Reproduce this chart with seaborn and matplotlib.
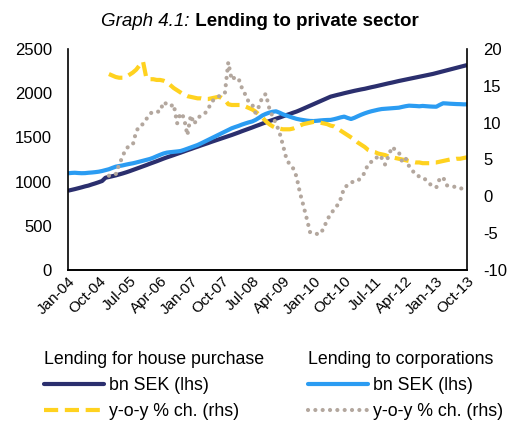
import matplotlib
matplotlib.use("Agg")
import matplotlib.pyplot as plt
from matplotlib.lines import Line2D
import numpy as np
import pandas as pd
import seaborn as sns

# Monthly observations, Jan-04 .. Oct-13
house_bn = [
    897, 906, 915, 925, 935, 946, 955, 968, 980, 993, 1007, 1044,
    1052, 1061, 1070, 1081, 1092, 1104, 1117, 1131, 1145, 1159, 1173, 1187,
    1202, 1216, 1230, 1245, 1260, 1274, 1287, 1300, 1314, 1327, 1341, 1355,
    1368, 1382, 1395, 1409, 1422, 1435, 1449, 1462, 1475, 1488, 1501, 1514,
    1527, 1541, 1555, 1570, 1584, 1598, 1612, 1627, 1641, 1656, 1670, 1684,
    1697, 1711, 1724, 1738, 1752, 1765, 1779, 1792, 1808, 1825, 1842, 1859,
    1876, 1893, 1910, 1927, 1944, 1961, 1971, 1981, 1990, 2000, 2009, 2018,
    2027, 2035, 2043, 2050, 2059, 2068, 2076, 2085, 2094, 2103, 2112, 2120,
    2129, 2138, 2146, 2154, 2162, 2170, 2178, 2186, 2194, 2202, 2210, 2218,
    2228, 2238, 2248, 2258, 2268, 2278, 2288, 2298, 2308, 2318,
]
corp_bn = [
    1094, 1098, 1100, 1097, 1095, 1096, 1100, 1103, 1107, 1112, 1120, 1130,
    1140, 1155, 1169, 1176, 1183, 1192, 1200, 1207, 1216, 1226, 1236, 1246,
    1256, 1270, 1287, 1303, 1318, 1328, 1333, 1337, 1341, 1346, 1358, 1372,
    1386, 1400, 1414, 1432, 1451, 1470, 1489, 1508, 1527, 1546, 1565, 1584,
    1603, 1617, 1630, 1645, 1658, 1670, 1680, 1698, 1722, 1748, 1766, 1780,
    1790, 1795, 1780, 1762, 1748, 1735, 1722, 1710, 1702, 1696, 1690, 1686,
    1685, 1688, 1692, 1695, 1697, 1698, 1706, 1716, 1727, 1735, 1720, 1708,
    1722, 1740, 1757, 1772, 1785, 1796, 1805, 1814, 1821, 1824, 1827, 1830,
    1833, 1836, 1845, 1853, 1859, 1857, 1855, 1852, 1856, 1853, 1850, 1848,
    1847, 1868, 1886, 1884, 1881, 1879, 1877, 1876, 1874, 1874,
]
# Year-on-year growth, Jan-05 .. Oct-13
house_yoy = [
    16.6, 16.4, 16.2, 16.1, 16.1, 16.2, 16.5, 16.8, 17.2, 17.8, 18.3, 16.0,
    15.9, 15.9, 15.8, 15.8, 15.7, 15.5, 15.1, 14.7, 14.4, 14.1, 13.8, 13.6,
    13.5, 13.4, 13.3, 13.3, 13.2, 13.2, 13.3, 13.4, 13.5, 13.4, 13.1, 12.5,
    12.4, 12.4, 12.4, 12.4, 12.2, 12.0, 11.8, 11.5, 11.1, 10.7, 10.2, 9.8,
    9.5, 9.3, 9.2, 9.1, 9.1, 9.1, 9.2, 9.4, 9.6, 9.8, 9.9, 10.0,
    10.1, 10.1, 10.0, 9.9, 9.8, 9.6, 9.5, 9.2, 8.9, 8.6, 8.3, 8.0,
    7.7, 7.3, 7.0, 6.7, 6.3, 6.1, 6.0, 5.8, 5.7, 5.6, 5.4, 5.3,
    5.2, 5.1, 5.0, 4.9, 4.8, 4.7, 4.6, 4.6, 4.5, 4.5, 4.5, 4.6,
    4.6, 4.7, 4.8, 4.9, 5.0, 5.0, 5.1, 5.1, 5.2, 5.3,
]
corp_yoy = [
    2.8, 2.9, 3.0, 4.3, 5.4, 6.5, 6.8, 7.0, 8.8, 9.6, 9.8, 10.5,
    11.2, 11.5, 11.5, 11.5, 12.8, 12.5, 12.2, 12.5, 9.9, 11.3, 10.7, 8.3,
    11.0, 9.8, 10.7, 10.9, 11.2, 11.7, 12.8, 13.2, 13.5, 13.8, 14.0, 18.2,
    15.8, 16.2, 16.0, 14.7, 13.8, 12.8, 12.5, 11.3, 12.2, 13.5, 13.9, 12.0,
    10.8, 9.9, 8.7, 7.0, 5.2, 4.3, 3.8, 2.7, 0.5, -1.2, -3.0, -4.9,
    -5.0, -5.1, -5.1, -4.3, -3.2, -2.4, -1.8, -1.2, -0.3, 1.2, 1.5, 1.9,
    2.0, 2.1, 2.6, 3.2, 4.4, 4.7, 4.9, 5.6, 5.2, 4.3, 5.5, 6.7,
    6.3, 6.0, 4.7, 5.2, 4.1, 3.5, 2.9, 2.7, 2.6, 2.2, 1.7, 1.4,
    1.2, 2.4, 2.6, 1.5, 1.4, 1.3, 1.3, 1.1, 1.0, 0.9,
]
tick_labels = ["Jan-04", "Oct-04", "Jul-05", "Apr-06", "Jan-07", "Oct-07", "Jul-08",
               "Apr-09", "Jan-10", "Oct-10", "Jul-11", "Apr-12", "Jan-13", "Oct-13"]

NAVY = "#2B2F6E"
BLUE = "#2B9CF2"
YELLOW = "#FFD21F"
GREY = "#B3A79E"

sns.set_theme(style="white")
plt.rcParams["font.family"] = ["Liberation Sans", "DejaVu Sans"]
plt.rcParams["axes.unicode_minus"] = False
plt.rcParams["text.color"] = "black"

month = np.arange(len(house_bn))
levels = pd.DataFrame({"month": month, "house": house_bn, "corp": corp_bn})
growth = pd.DataFrame({"month": month[12:], "house": house_yoy, "corp": corp_yoy})

fig = plt.figure(figsize=(5.07, 4.22), dpi=100)
ax = fig.add_axes([68 / 507, 1 - 270 / 422, (467 - 68) / 507, (270 - 49) / 422])
ax2 = ax.twinx()

LW = 3.0
DASH = (0, (3.4, 1.6))
DOT = (0, (0.01, 1.75))
sns.lineplot(data=levels, x="month", y="house", ax=ax, color=NAVY, lw=LW,
             solid_capstyle="butt")
sns.lineplot(data=levels, x="month", y="corp", ax=ax, color=BLUE, lw=LW,
             solid_capstyle="butt")
sns.lineplot(data=growth, x="month", y="house", ax=ax2, color=YELLOW, lw=LW,
             linestyle=DASH, dash_capstyle="butt")
sns.lineplot(data=growth, x="month", y="corp", ax=ax2, color=GREY, lw=LW,
             linestyle=DOT, dash_capstyle="round")

ax.set_xlim(0, len(house_bn) - 1)
ax.set_ylim(0, 2500)
ax.set_yticks(np.arange(0, 2501, 500))
ax2.set_ylim(-10, 20)
ax2.set_yticks(np.arange(-10, 21, 5))
ax.set_xticks(np.arange(0, len(house_bn), 9))
ax.set_xticklabels(tick_labels, rotation=45, ha="right", rotation_mode="anchor")

for a in (ax, ax2):
    a.set_xlabel("")
    a.set_ylabel("")
    a.grid(False)
    a.tick_params(length=0, colors="black", labelsize=12, pad=11.5)
    for side in ("left", "right", "bottom"):
        a.spines[side].set_visible(True)
        a.spines[side].set_color("black")
        a.spines[side].set_linewidth(1.2)
    a.spines["top"].set_visible(False)
ax.tick_params(axis="x", pad=3, labelsize=11)
ax2.spines["left"].set_visible(False)
ax.spines["right"].set_visible(False)

# Title: italic prefix followed by a bold caption, centred as one line
TY = 1 - 22 / 422
title_l = fig.text(0, TY, "Graph 4.1:", fontsize=13.5, style="italic", va="center")
title_r = fig.text(0, TY, " Lending to private sector", fontsize=13.5,
                   weight="bold", va="center")
fig.canvas.draw()
r = fig.canvas.get_renderer()
wl = title_l.get_window_extent(r).width
wr = title_r.get_window_extent(r).width
x0 = 260 - (wl + wr) / 2
title_l.set_x(x0 / 507)
title_r.set_x((x0 + wl) / 507)

house_handles = [
    Line2D([], [], color=NAVY, lw=LW, solid_capstyle="round"),
    Line2D([], [], color=YELLOW, lw=LW, linestyle=DASH),
]
corp_handles = [
    Line2D([], [], color=BLUE, lw=LW, solid_capstyle="round"),
    Line2D([], [], color=GREY, lw=LW, linestyle=DOT, dash_capstyle="round"),
]
leg_kw = dict(frameon=False, fontsize=12.8, title_fontsize=12.8, handlelength=3.4,
              handletextpad=0.25, labelspacing=0.5, borderpad=0, borderaxespad=0,
              alignment="left", loc="upper left")
leg1 = fig.legend(house_handles, ["bn SEK (lhs)", "y-o-y % ch. (rhs)"],
                  title="Lending for house purchase",
                  bbox_to_anchor=(44 / 507, 1 - 351 / 422), **leg_kw)
leg2 = fig.legend(corp_handles, ["bn SEK (lhs)", "y-o-y % ch. (rhs)"],
                  title="Lending to corporations",
                  bbox_to_anchor=(308 / 507, 1 - 351 / 422), **leg_kw)

fig.savefig("out.png", dpi=100)
